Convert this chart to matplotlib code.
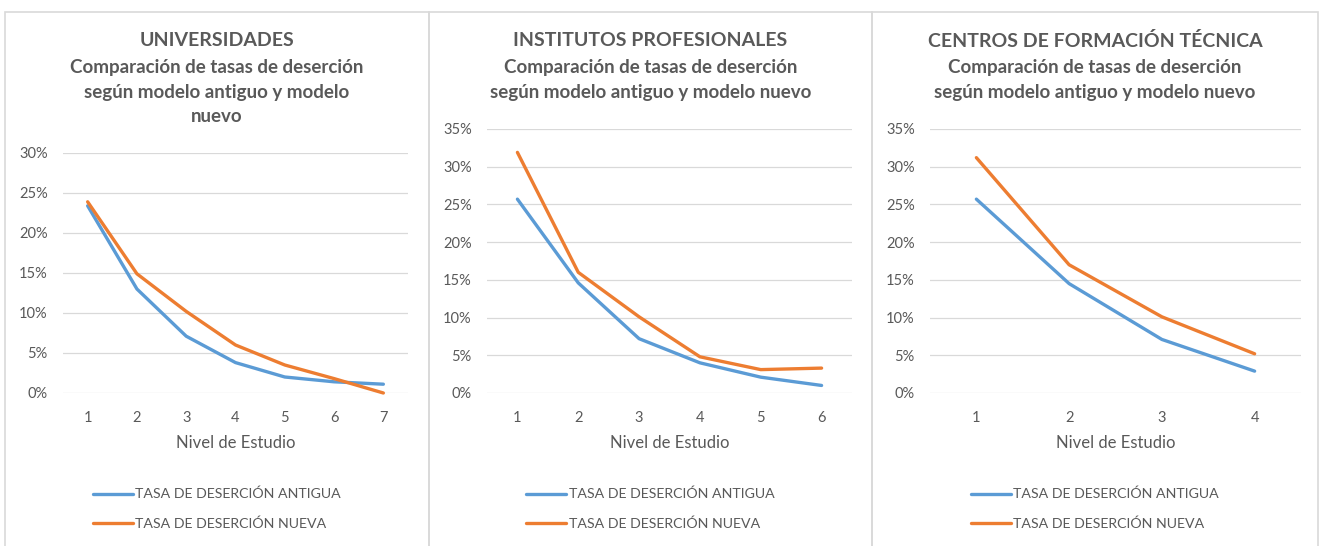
import matplotlib
matplotlib.use("Agg")
import matplotlib.pyplot as plt
from matplotlib.patches import Rectangle
from matplotlib.ticker import PercentFormatter, MultipleLocator

plt.rcParams['font.family'] = ['Lato', 'DejaVu Sans']

# data
titles = ["UNIVERSIDADES", "INSTITUTOS PROFESIONALES", "CENTROS DE FORMACIÓN TÉCNICA"]
subtitles = [["Comparación de tasas de deserción", "según modelo antiguo y modelo", "nuevo"],
             ["Comparación de tasas de deserción", "según modelo antiguo y modelo nuevo"],
             ["Comparación de tasas de deserción", "según modelo antiguo y modelo nuevo"]]

univ_niveles = [1, 2, 3, 4, 5, 6, 7]
univ_antigua = [0.234, 0.130, 0.071, 0.038, 0.020, 0.014, 0.011]
univ_nueva = [0.239, 0.149, 0.102, 0.060, 0.035, 0.018, 0.000]

ip_niveles = [1, 2, 3, 4, 5, 6]
ip_antigua = [0.257, 0.146, 0.072, 0.040, 0.021, 0.010]
ip_nueva = [0.319, 0.160, 0.101, 0.048, 0.031, 0.033]

cft_niveles = [1, 2, 3, 4]
cft_antigua = [0.257, 0.145, 0.071, 0.029]
cft_nueva = [0.312, 0.170, 0.101, 0.052]

label_antigua = "TASA DE DESERCIÓN ANTIGUA"
label_nueva = "TASA DE DESERCIÓN NUEVA"

blue = "#5B9BD5"
orange = "#ED7D31"
grey_text = "#595959"
grid_col = "#D9D9D9"

W, H = 1320, 546
fig = plt.figure(figsize=(W / 100, H / 100), dpi=100)

def px(x0, y_top, x1, y_bot):
    # pixel box -> figure fraction rect
    return [x0 / W, 1 - y_bot / H, (x1 - x0) / W, (y_bot - y_top) / H]

panels = [(5, 429), (429, 872), (872, 1318)]
axes_boxes = [px(63, 153, 408, 393), px(487, 129, 852, 393), px(930, 129, 1301, 393)]
ymaxes = [0.30, 0.35, 0.35]
series = [(univ_niveles, univ_antigua, univ_nueva),
          (ip_niveles, ip_antigua, ip_nueva),
          (cft_niveles, cft_antigua, cft_nueva)]

for i in range(3):
    left, right = panels[i]
    fig.patches.append(Rectangle((left / W, -0.05), (right - left) / W, 1.05 - 12 / H,
                                 transform=fig.transFigure, fill=False,
                                 edgecolor=grid_col, linewidth=1.2))

    ax = fig.add_axes(axes_boxes[i])
    x, a, n = series[i]
    la, = ax.plot(x, a, color=blue, linewidth=2.4, clip_on=False, solid_capstyle='round')
    ln, = ax.plot(x, n, color=orange, linewidth=2.4, clip_on=False, solid_capstyle='round')

    ax.set_xlim(0.5, len(x) + 0.5)
    ax.set_ylim(0, ymaxes[i])
    ax.set_xticks(x)
    ax.yaxis.set_major_locator(MultipleLocator(0.05))
    ax.yaxis.set_major_formatter(PercentFormatter(1.0, decimals=0))
    ax.grid(axis='y', color=grid_col, linewidth=0.9)
    ax.set_axisbelow(True)
    for s in ax.spines.values():
        s.set_visible(False)
    ax.tick_params(length=0, labelsize=10.5, labelcolor=grey_text)
    ax.tick_params(axis='x', pad=13)
    ax.tick_params(axis='y', pad=11)
    ax.set_xlabel("Nivel de Estudio", fontsize=12, color=grey_text, labelpad=7)

    cx = (left + right) / 2 / W
    fig.text(cx, 1 - 41 / H, titles[i], ha='center', va='center',
             fontsize=14, fontweight='bold', color=grey_text)
    for j, line in enumerate(subtitles[i]):
        fig.text(cx, 1 - (67 + 25 * j) / H, line, ha='center', va='center',
                 fontsize=13.5, fontweight='bold', color=grey_text)

    fig.legend([la, ln], [label_antigua, label_nueva], loc='center',
               bbox_to_anchor=(cx, 1 - 509 / H), frameon=False, fontsize=10.2,
               labelcolor=grey_text, handlelength=2.8, handletextpad=0.2,
               labelspacing=1.2)

fig.savefig("out.png", dpi=100, facecolor='white')
